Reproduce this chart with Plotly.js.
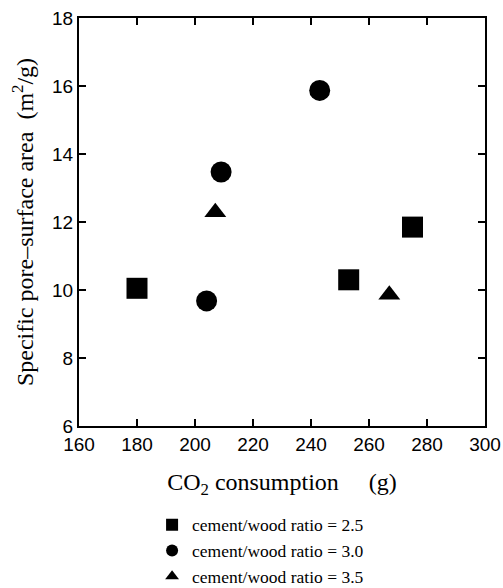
<!DOCTYPE html>
<html>
<head>
<meta charset="utf-8">
<script src="https://cdn.plot.ly/plotly-3.0.1.min.js"></script>
<style>html,body{margin:0;padding:0;background:#fff;}#chart{width:503px;height:588px;}</style>
</head>
<body>
<div id="chart"></div>
<script>
var seriesNames = ['cement/wood ratio = 2.5', 'cement/wood ratio = 3.0', 'cement/wood ratio = 3.5'];
var co2_25 = [180, 253, 275];
var area_25 = [10.05, 10.3, 11.85];
var co2_30 = [204, 209, 243];
var area_30 = [9.68, 13.47, 15.87];
var co2_35 = [207, 267];
var area_35 = [12.29, 9.86];
var xTicks = [160, 180, 200, 220, 240, 260, 280, 300];
var yTicks = [6, 8, 10, 12, 14, 16, 18];

var traces = [
  {x: co2_25, y: area_25, name: seriesNames[0], type: 'scatter', mode: 'markers',
   marker: {symbol: 'square', size: 21, color: '#000'}},
  {x: co2_30, y: area_30, name: seriesNames[1], type: 'scatter', mode: 'markers',
   marker: {symbol: 'circle', size: 21, color: '#000'}},
  {x: co2_35, y: area_35, name: seriesNames[2], type: 'scatter', mode: 'markers',
   marker: {symbol: 'triangle-up', size: 19, color: '#000'}}
];

var tickFont = {family: 'Liberation Sans, Arial, sans-serif', size: 19, color: '#000'};
var serif = 'Liberation Serif, Times New Roman, serif';
var sp = '\u00A0';

var layout = {
  width: 503, height: 588,
  margin: {l: 79, r: 18, t: 18, b: 162, autoexpand: false},
  paper_bgcolor: '#fff', plot_bgcolor: '#fff',
  showlegend: true,
  legend: {
    x: 0.18, xanchor: 'left', y: -0.198, yanchor: 'top',
    font: {family: serif, size: 17.5, color: '#000'},
    itemsizing: 'constant', tracegroupgap: 0,
    bgcolor: 'rgba(0,0,0,0)'
  },
  xaxis: {
    range: [160, 300], tickvals: xTicks, ticktext: xTicks.map(String),
    ticks: 'inside', ticklen: 7, tickwidth: 2, tickcolor: '#000',
    showline: true, linewidth: 2, linecolor: '#000', mirror: 'allticks',
    showgrid: false, zeroline: false, tickfont: tickFont,
    title: {text: sp+sp+sp+sp+sp + 'CO<sub>2</sub> consumption ' + sp+sp+sp+sp + '(g)', standoff: 19,
            font: {family: serif, size: 24, color: '#000'}}
  },
  yaxis: {
    range: [6, 18], tickvals: yTicks, ticktext: yTicks.map(String),
    ticks: 'inside', ticklen: 7, tickwidth: 2, tickcolor: '#000',
    showline: true, linewidth: 2, linecolor: '#000', mirror: 'allticks',
    showgrid: false, zeroline: false, tickfont: tickFont,
    title: {text: 'Specific pore\u2013surface area ' + sp + '(m<sup>2</sup>/g)', standoff: 12,
            font: {family: serif, size: 24, color: '#000'}}
  }
};

Plotly.newPlot('chart', traces, layout, {displayModeBar: false, staticPlot: true});
</script>
</body>
</html>
